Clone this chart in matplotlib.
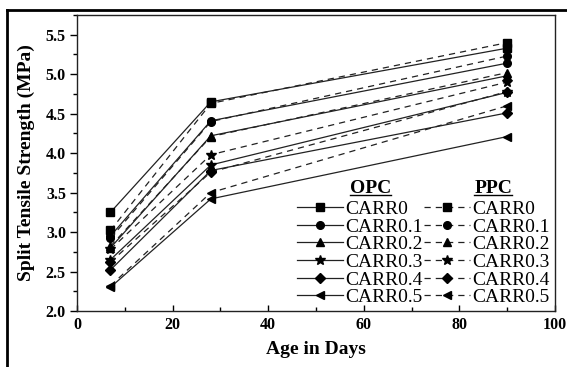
import matplotlib
matplotlib.use("Agg")
import matplotlib.pyplot as plt
from matplotlib.lines import Line2D
from matplotlib.ticker import MultipleLocator

plt.rcParams['font.family'] = ['Liberation Serif', 'DejaVu Serif']

ages = [7, 28, 90]
mixes = ["CARR0", "CARR0.1", "CARR0.2", "CARR0.3", "CARR0.4", "CARR0.5"]
markers = ["s", "o", "^", "*", "D", "<"]

opc_carr0 = [3.25, 4.65, 5.33]
opc_carr01 = [2.95, 4.41, 5.14]
opc_carr02 = [2.80, 4.22, 4.98]
opc_carr03 = [2.65, 3.85, 4.77]
opc_carr04 = [2.52, 3.78, 4.51]
opc_carr05 = [2.30, 3.42, 4.21]

ppc_carr0 = [3.02, 4.63, 5.40]
ppc_carr01 = [2.92, 4.40, 5.23]
ppc_carr02 = [2.82, 4.21, 5.02]
ppc_carr03 = [2.78, 3.98, 4.90]
ppc_carr04 = [2.62, 3.76, 4.78]
ppc_carr05 = [2.32, 3.50, 4.60]

opc = [opc_carr0, opc_carr01, opc_carr02, opc_carr03, opc_carr04, opc_carr05]
ppc = [ppc_carr0, ppc_carr01, ppc_carr02, ppc_carr03, ppc_carr04, ppc_carr05]

fig = plt.figure(figsize=(5.67, 3.67), dpi=100)
ax = fig.add_axes([0.1358, 0.1526, 0.843, 0.8065])

lc = "#222222"
handles_opc, handles_ppc = [], []
for name, m, vals in zip(mixes, markers, opc):
    ms = 7.5 if m == "*" else 5.5
    h, = ax.plot(ages, vals, color=lc, lw=0.9, ls='-', marker=m, ms=ms,
                 mfc='black', mec='black', label=name)
    handles_opc.append(h)
for name, m, vals in zip(mixes, markers, ppc):
    ms = 7.5 if m == "*" else 5.5
    h, = ax.plot(ages, vals, color=lc, lw=0.9, ls=(0, (5, 4)), marker=m, ms=ms,
                 mfc='black', mec='black', label=name)
    handles_ppc.append(h)

ax.set_xlim(0, 100)
ax.set_ylim(2.0, 5.75)
ax.xaxis.set_major_locator(MultipleLocator(20))
ax.xaxis.set_minor_locator(MultipleLocator(10))
ax.yaxis.set_major_locator(MultipleLocator(0.5))
ax.yaxis.set_minor_locator(MultipleLocator(0.25))
ax.yaxis.set_major_formatter(matplotlib.ticker.FormatStrFormatter('%.1f'))
ax.tick_params(axis='x', which='major', direction='in', length=4, width=1, pad=4)
ax.tick_params(axis='x', which='minor', direction='in', length=3, width=1)
ax.tick_params(axis='y', which='major', direction='out', length=5, width=1, pad=3)
ax.tick_params(axis='y', which='minor', direction='out', length=3, width=1)
for lab in ax.get_xticklabels() + ax.get_yticklabels():
    lab.set_fontweight('bold')
    lab.set_fontsize(11.5)
for s in ax.spines.values():
    s.set_linewidth(1.0)
    s.set_color('#222222')

ax.set_xlabel("Age in Days", fontsize=14, fontweight='bold', labelpad=6)
ax.set_ylabel("Split Tensile Strength (MPa)", fontsize=14, fontweight='bold', labelpad=8)

leg = ax.legend(handles=handles_opc + handles_ppc, ncol=2, loc='lower right',
                bbox_to_anchor=(1.0, 0.0), frameon=False, fontsize=14,
                handlelength=2.4, handletextpad=0.12, columnspacing=0.02,
                labelspacing=0.0, borderaxespad=0.15, borderpad=0.1)

fig.canvas.draw()
# column headers
r = fig.canvas.get_renderer()
texts = leg.get_texts()
inv = ax.transAxes.inverted()
bb_first_opc = texts[0].get_window_extent(r)
bb_first_ppc = texts[6].get_window_extent(r)
for hdr, bb, frac in (("OPC", bb_first_opc, 0.39), ("PPC", bb_first_ppc, 0.33)):
    xc = bb.x0 + frac * bb.width
    y = bb.y1 + 4
    t = ax.text(*inv.transform((xc, y)), hdr, transform=ax.transAxes,
                ha='center', va='bottom', fontsize=14, fontweight='bold')
    tb = t.get_window_extent(r)
    (x0, y0), (x1, _) = inv.transform((tb.x0, tb.y0 + 2)), inv.transform((tb.x1, tb.y0 + 2))
    ax.add_line(Line2D([x0, x1], [y0, y0], transform=ax.transAxes, color='black', lw=1.0))

# figure border
fig.add_artist(Line2D([7/567, 7/567], [0, 1 - 10/367], transform=fig.transFigure, color='black', lw=2))
fig.add_artist(Line2D([7/567, 1], [1 - 10/367, 1 - 10/367], transform=fig.transFigure, color='black', lw=2))

fig.savefig("out.png", dpi=100)
